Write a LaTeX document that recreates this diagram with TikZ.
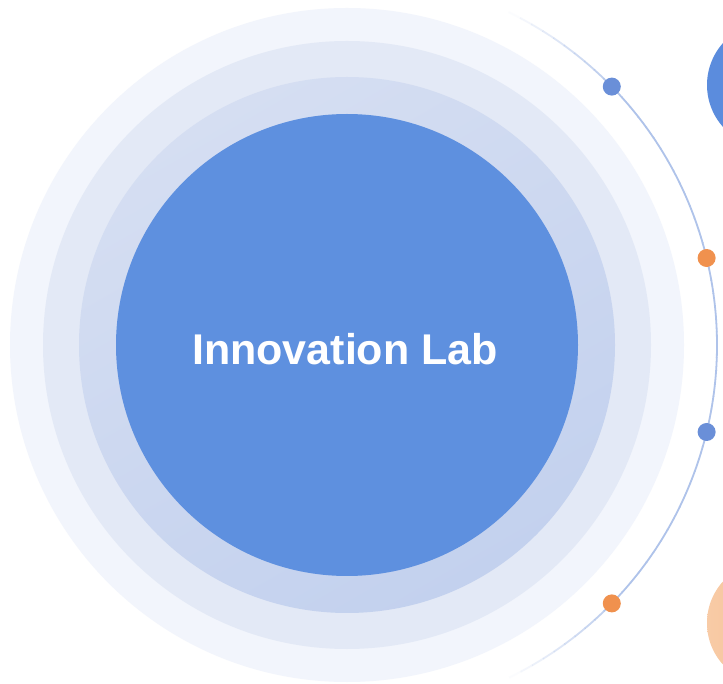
\documentclass[tikz,border=0pt]{standalone}
\usepackage{fontspec}
\setmainfont{Liberation Sans}
\definecolor{ringA}{HTML}{F2F5FC}
\definecolor{ringB}{HTML}{E3E9F6}
\definecolor{ringCa}{HTML}{D5DEF2}
\definecolor{ringCb}{HTML}{C3D1EE}
\definecolor{core}{HTML}{5E90DF}
\definecolor{arcc}{HTML}{AFC3EA}
\definecolor{bdotc}{HTML}{6A8FD8}
\definecolor{odotc}{HTML}{F0914E}
\definecolor{bigb}{HTML}{5B8CDD}
\definecolor{bigoa}{HTML}{F8CBA6}
\definecolor{bigob}{HTML}{F3B98A}
\tikzset{
  dotbox/.style={circle, inner sep=0pt, minimum size=18pt, draw=none},
  bluedot/.style={dotbox, fill=bdotc},
  orangedot/.style={dotbox, fill=odotc},
  arcline/.style={draw=arcc, line width=1.8pt},
  labeltext/.style={text=white, font=\bfseries\fontsize{43}{43}\selectfont}
}
\begin{document}
\begin{tikzpicture}[x=1pt,y=1pt]
\useasboundingbox (0,0) rectangle (723,683);
\clip (0,0) rectangle (723,683);
\fill[white] (0,0) rectangle (723,683);
\coordinate (c) at (347,338);
% concentric rings
\fill[ringA] (c) circle (337);
\fill[ringB] (c) circle (304);
\shade[top color=ringCa, bottom color=ringCb, shading angle=30] (c) circle (268);
\fill[core] (c) circle (231);
% fading arc
\foreach \a in {-64,-62,...,62} {
  \pgfmathsetmacro\op{max(0,min(1,(64-abs(\a+1))/22))}
  \draw[arcline, draw opacity=\op] ([shift={(\a:370)}]c) arc (\a:\a+2.1:370);
}
% dots on arc
\node[bluedot] (d1) at ([shift={(44.3:370)}]c) {};
\node[orangedot] (d2) at ([shift={(13.6:370)}]c) {};
\node[bluedot] (d3) at ([shift={(-13.6:370)}]c) {};
\node[orangedot] (d4) at ([shift={(-44.3:370)}]c) {};
% big circles at right edge
\fill[bigb] (770,598) circle (63);
\shade[left color=bigoa, right color=bigob] (769,60) circle (62);
% label
\node[labeltext] (lab) at (345,334) {Innovation Lab};
\end{tikzpicture}
\end{document}
